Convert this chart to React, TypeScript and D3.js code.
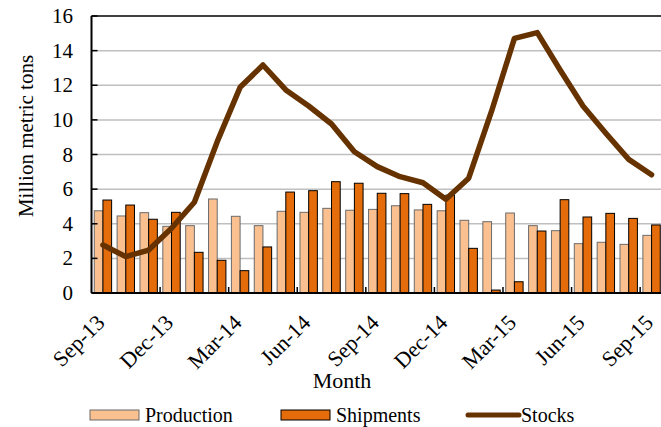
import React, { useEffect, useRef } from 'react';
import * as d3 from 'd3';

const months = [
  'Sep-13', 'Oct-13', 'Nov-13', 'Dec-13', 'Jan-14', 'Feb-14', 'Mar-14', 'Apr-14', 'May-14',
  'Jun-14', 'Jul-14', 'Aug-14', 'Sep-14', 'Oct-14', 'Nov-14', 'Dec-14', 'Jan-15', 'Feb-15',
  'Mar-15', 'Apr-15', 'May-15', 'Jun-15', 'Jul-15', 'Aug-15', 'Sep-15',
];
const production = [
  4.75, 4.45, 4.64, 3.85, 3.89, 5.43, 4.43, 3.89, 4.72, 4.66, 4.89, 4.78, 4.83,
  5.04, 4.8, 4.75, 4.2, 4.12, 4.62, 3.89, 3.6, 2.85, 2.93, 2.81, 3.33,
];
const shipments = [
  5.37, 5.08, 4.26, 4.66, 2.35, 1.89, 1.29, 2.66, 5.83, 5.91, 6.43, 6.34, 5.76,
  5.74, 5.12, 5.65, 2.58, 0.17, 0.65, 3.58, 5.39, 4.39, 4.6, 4.31, 3.93,
];
const stocks = [
  2.77, 2.1, 2.48, 3.74, 5.24, 8.74, 11.88, 13.17, 11.73, 10.8, 9.76, 8.16, 7.3,
  6.72, 6.37, 5.41, 6.63, 10.5, 14.71, 15.04, 12.88, 10.8, 9.23, 7.72, 6.83,
];
const yTicks = [0, 2, 4, 6, 8, 10, 12, 14, 16];

const W = 661;
const H = 427;
const FONT = '"Liberation Serif", "Times New Roman", serif';

const App: React.FC = () => {
  const ref = useRef<SVGSVGElement>(null);

  useEffect(() => {
    const svg = d3.select(ref.current);
    svg.selectAll('*').remove();

    const left = 91.5;
    const right = 663;
    const top = 16;
    const bottom = 293;

    const x = d3.scaleBand<string>().domain(months).range([left, right]).padding(0);
    const y = d3.scaleLinear().domain([0, 16]).range([bottom, top]);
    const bw = x.bandwidth() * 0.38;
    const cx = (m: string) => (x(m) as number) + x.bandwidth() / 2;

    // gridlines
    svg.append('g')
      .selectAll('line')
      .data(yTicks.filter(t => t > 0 && t < 16))
      .enter()
      .append('line')
      .attr('x1', left)
      .attr('x2', right)
      .attr('y1', d => y(d))
      .attr('y2', d => y(d))
      .attr('stroke', '#bfbfbf')
      .attr('stroke-width', 1.5);

    // bars
    svg.append('g')
      .selectAll('rect')
      .data(months)
      .enter()
      .append('rect')
      .attr('x', d => cx(d) - bw)
      .attr('y', (_, i) => y(production[i]))
      .attr('width', bw)
      .attr('height', (_, i) => bottom - y(production[i]))
      .attr('fill', '#fac090')
      .attr('stroke', '#6b6b6b')
      .attr('stroke-width', 1);

    svg.append('g')
      .selectAll('rect')
      .data(months)
      .enter()
      .append('rect')
      .attr('x', d => cx(d))
      .attr('y', (_, i) => y(shipments[i]))
      .attr('width', bw)
      .attr('height', (_, i) => bottom - y(shipments[i]))
      .attr('fill', '#e46c0a')
      .attr('stroke', '#000')
      .attr('stroke-width', 1);

    // stocks line
    const line = d3.line<number>()
      .x((_, i) => cx(months[i]))
      .y(d => y(d));
    svg.append('path')
      .attr('d', line(stocks) as string)
      .attr('fill', 'none')
      .attr('stroke', '#663300')
      .attr('stroke-width', 5.5)
      .attr('stroke-linejoin', 'round')
      .attr('stroke-linecap', 'round');

    // frame / axes
    svg.append('line').attr('x1', left).attr('x2', right).attr('y1', top).attr('y2', top)
      .attr('stroke', '#000').attr('stroke-width', 1.5);
    svg.append('line').attr('x1', left).attr('x2', left).attr('y1', top).attr('y2', bottom)
      .attr('stroke', '#000').attr('stroke-width', 2);
    svg.append('line').attr('x1', left).attr('x2', right).attr('y1', bottom).attr('y2', bottom)
      .attr('stroke', '#000').attr('stroke-width', 2);

    // y ticks
    svg.append('g')
      .selectAll('line')
      .data(yTicks)
      .enter()
      .append('line')
      .attr('x1', left)
      .attr('x2', left + 6)
      .attr('y1', d => y(d))
      .attr('y2', d => y(d))
      .attr('stroke', '#000')
      .attr('stroke-width', 1.5);

    svg.append('g')
      .selectAll('text')
      .data(yTicks)
      .enter()
      .append('text')
      .attr('x', 73)
      .attr('y', d => y(d) + 7)
      .attr('text-anchor', 'end')
      .style('font-family', FONT)
      .style('font-size', '21px')
      .text(d => d);

    // x ticks every 3 months
    const labelMonths = months.filter((_, i) => i % 3 === 0);
    svg.append('g')
      .selectAll('line')
      .data(labelMonths.slice(1))
      .enter()
      .append('line')
      .attr('x1', d => x(d) as number)
      .attr('x2', d => x(d) as number)
      .attr('y1', bottom)
      .attr('y2', bottom - 6)
      .attr('stroke', '#000')
      .attr('stroke-width', 1.5);

    svg.append('g')
      .selectAll('text')
      .data(labelMonths)
      .enter()
      .append('text')
      .attr('transform', d => `translate(${cx(d) + 3},${324}) rotate(-45)`)
      .attr('text-anchor', 'end')
      .style('font-family', FONT)
      .style('font-size', '22px')
      .text(d => d);

    // axis titles
    svg.append('text')
      .attr('transform', `translate(33,136) rotate(-90)`)
      .attr('text-anchor', 'middle')
      .style('font-family', FONT)
      .style('font-size', '21px')
      .text('Million metric tons');

    svg.append('text')
      .attr('x', 342)
      .attr('y', 388)
      .attr('text-anchor', 'middle')
      .style('font-family', FONT)
      .style('font-size', '22px')
      .text('Month');

    // legend
    const lg = svg.append('g');
    lg.append('rect').attr('x', 90).attr('y', 410).attr('width', 49).attr('height', 10)
      .attr('fill', '#fac090').attr('stroke', '#6b6b6b');
    lg.append('text').attr('x', 145).attr('y', 422).style('font-family', FONT).style('font-size', '20px')
      .text('Production');
    lg.append('rect').attr('x', 281).attr('y', 410).attr('width', 49).attr('height', 10)
      .attr('fill', '#e46c0a').attr('stroke', '#000');
    lg.append('text').attr('x', 336).attr('y', 422).style('font-family', FONT).style('font-size', '20px')
      .text('Shipments');
    lg.append('line').attr('x1', 468).attr('x2', 519).attr('y1', 415).attr('y2', 415)
      .attr('stroke', '#663300').attr('stroke-width', 5).attr('stroke-linecap', 'round');
    lg.append('text').attr('x', 521).attr('y', 422).style('font-family', FONT).style('font-size', '20px')
      .text('Stocks');
  }, []);

  return (
    <svg
      ref={ref}
      width={W}
      height={H}
      style={{ position: 'absolute', left: 0, top: 0, display: 'block', background: '#fff' }}
    />
  );
};

export default App;
